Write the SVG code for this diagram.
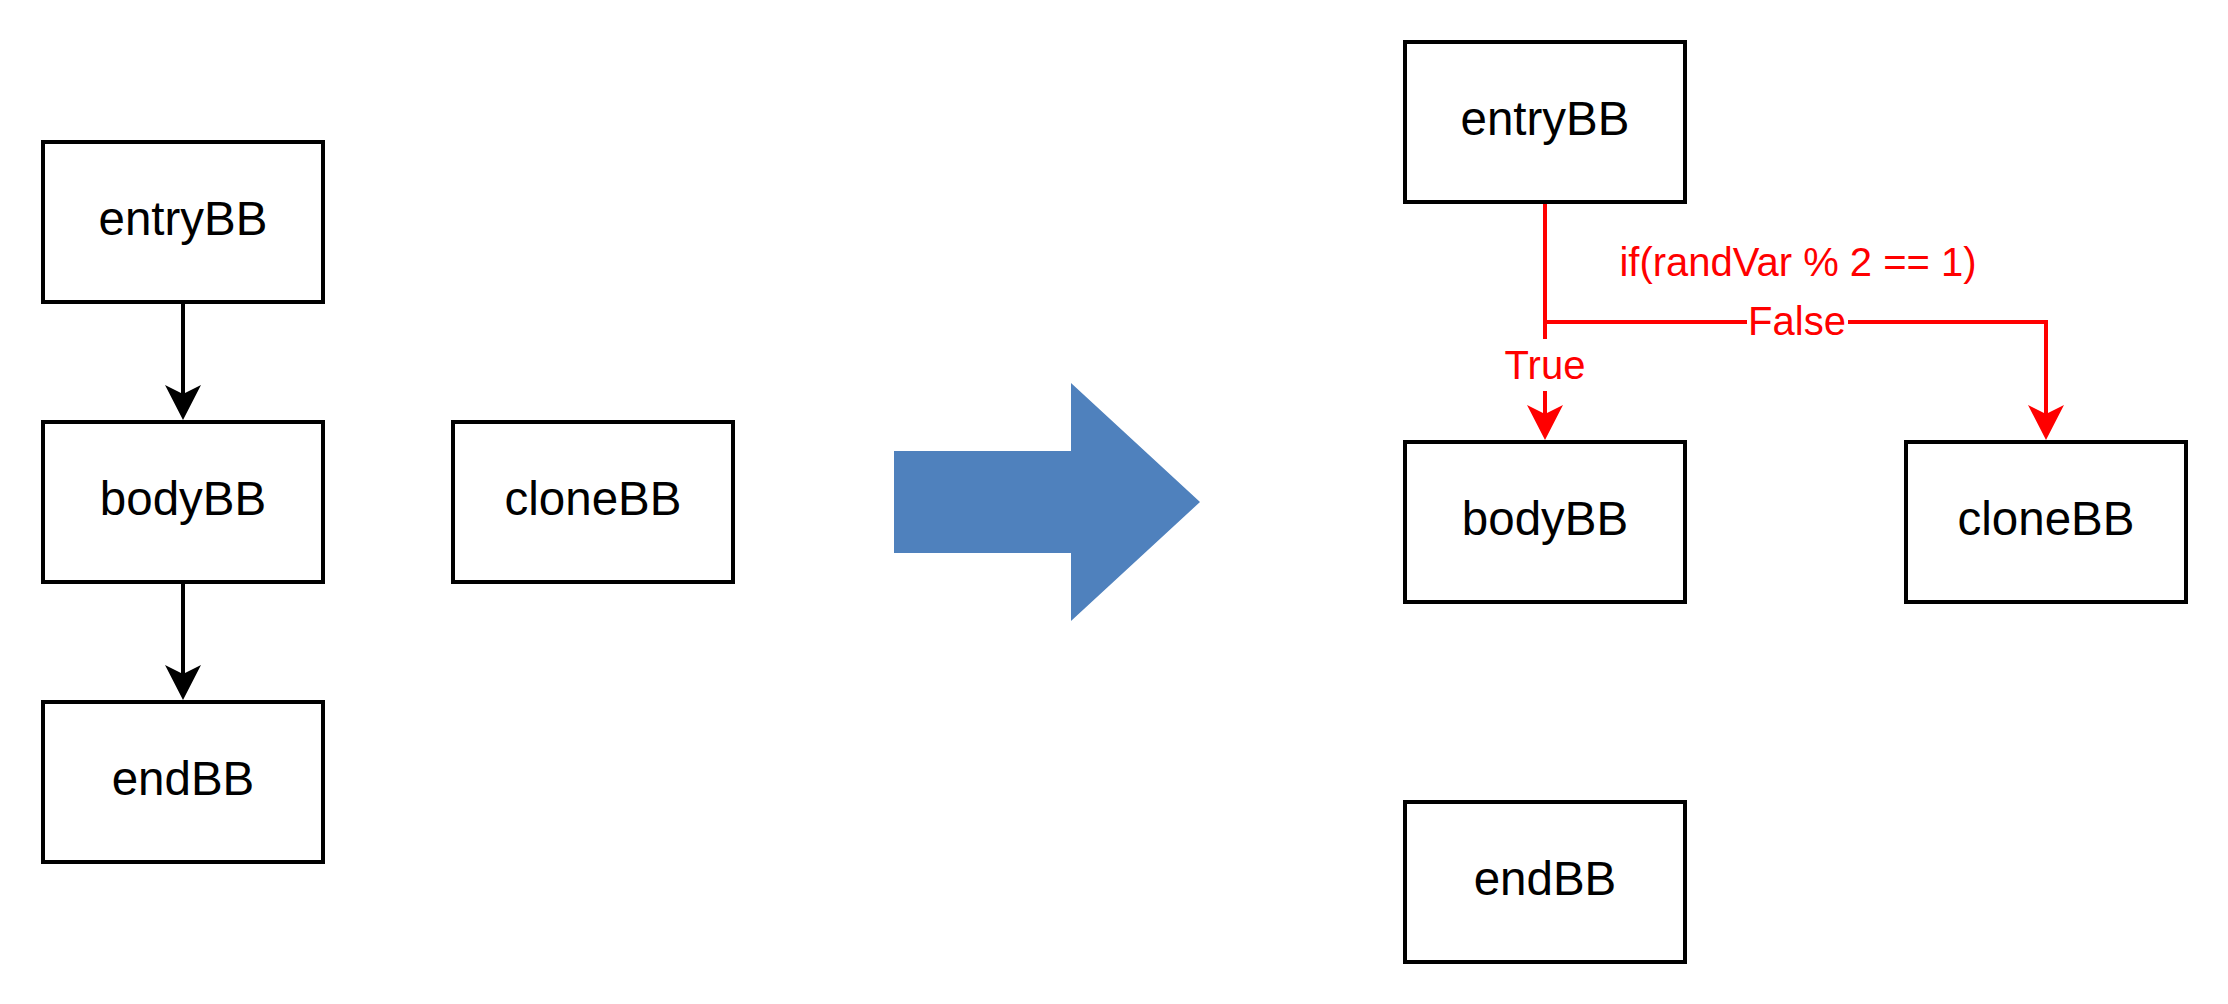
<svg xmlns="http://www.w3.org/2000/svg" width="2228" height="1004" viewBox="0 0 2228 1004">
<style>
.box{fill:#ffffff;stroke:#000000;stroke-width:4}
.lbl{font-family:"Liberation Sans",Arial,sans-serif;font-size:47.5px;fill:#000000;text-anchor:middle}
.rlbl{font-family:"Liberation Sans",Arial,sans-serif;font-size:40px;fill:#ff0000;text-anchor:middle}
.blk{fill:none;stroke:#000000;stroke-width:4}
.red{fill:none;stroke:#ff0000;stroke-width:4}
</style>
<defs>
<marker id="ab" markerUnits="userSpaceOnUse" markerWidth="36" markerHeight="36" viewBox="0 0 36 36" refX="9" refY="18" orient="auto">
<path d="M35,18 L0,0 L9,18 L0,36 Z" fill="#000000"/>
</marker>
<marker id="ar" markerUnits="userSpaceOnUse" markerWidth="36" markerHeight="36" viewBox="0 0 36 36" refX="9" refY="18" orient="auto">
<path d="M35,18 L0,0 L9,18 L0,36 Z" fill="#ff0000"/>
</marker>
</defs>
<rect width="2228" height="1004" fill="#ffffff"/>
<g id="connectors">
<path class="blk" d="M183,302 V394" marker-end="url(#ab)"/>
<path class="blk" d="M183,582 V674" marker-end="url(#ab)"/>
<path class="red" d="M1545,202 V414" marker-end="url(#ar)"/>
<path class="red" d="M1545,322 H2046 V414" marker-end="url(#ar)"/>
<rect x="1505" y="339" width="81" height="52" fill="#ffffff"/>
<text class="rlbl" x="1545" y="379">True</text>
<rect x="1747" y="300" width="101" height="44" fill="#ffffff"/>
<text class="rlbl" x="1797" y="335">False</text>
<text class="rlbl" x="1798" y="276">if(randVar % 2 == 1)</text>
</g>
<g id="left-entryBB"><rect class="box" x="43" y="142" width="280" height="160"/><text class="lbl" x="183" y="235">entryBB</text></g>
<g id="left-bodyBB"><rect class="box" x="43" y="422" width="280" height="160"/><text class="lbl" x="183" y="515">bodyBB</text></g>
<g id="left-endBB"><rect class="box" x="43" y="702" width="280" height="160"/><text class="lbl" x="183" y="795">endBB</text></g>
<g id="left-cloneBB"><rect class="box" x="453" y="422" width="280" height="160"/><text class="lbl" x="593" y="515">cloneBB</text></g>
<g id="transform-arrow"><polygon points="894,451 1071,451 1071,383 1200,502 1071,621 1071,553 894,553" fill="#4f81bd"/></g>
<g id="right-entryBB"><rect class="box" x="1405" y="42" width="280" height="160"/><text class="lbl" x="1545" y="135">entryBB</text></g>
<g id="right-bodyBB"><rect class="box" x="1405" y="442" width="280" height="160"/><text class="lbl" x="1545" y="535">bodyBB</text></g>
<g id="right-cloneBB"><rect class="box" x="1906" y="442" width="280" height="160"/><text class="lbl" x="2046" y="535">cloneBB</text></g>
<g id="right-endBB"><rect class="box" x="1405" y="802" width="280" height="160"/><text class="lbl" x="1545" y="895">endBB</text></g>
</svg>
